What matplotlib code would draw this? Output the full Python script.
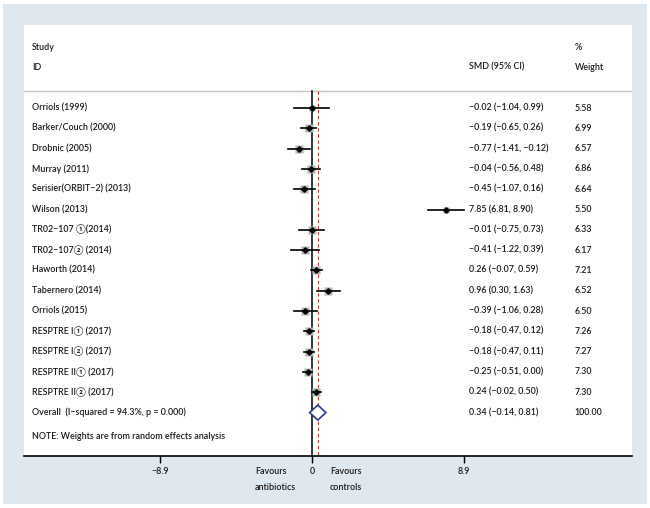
import numpy as np
import matplotlib.pyplot as plt
from matplotlib.patches import Rectangle

plt.rcParams['font.family'] = ['Lato', 'Noto Sans CJK SC', 'DejaVu Sans']
plt.rcParams['font.weight'] = 'semibold'

studies = ["Orriols (1999)", "Barker/Couch (2000)", "Drobnic (2005)", "Murray (2011)",
           "Serisier(ORBIT\u22122) (2013)", "Wilson (2013)", "TR02\u2212107 \u2460(2014)",
           "TR02\u2212107\u2461 (2014)", "Haworth (2014)", "Tabernero (2014)", "Orriols (2015)",
           "RESPTRE I\u2460 (2017)", "RESPTRE I\u2461 (2017)", "RESPTRE II\u2460 (2017)",
           "RESPTRE II\u2461 (2017)"]
smd = [-0.02, -0.19, -0.77, -0.04, -0.45, 7.85, -0.01, -0.41, 0.26, 0.96, -0.39,
       -0.18, -0.18, -0.25, 0.24]
ci_lo = [-1.04, -0.65, -1.41, -0.56, -1.07, 6.81, -0.75, -1.22, -0.07, 0.30, -1.06,
         -0.47, -0.47, -0.51, -0.02]
ci_hi = [0.99, 0.26, -0.12, 0.48, 0.16, 8.90, 0.73, 0.39, 0.59, 1.63, 0.28,
         0.12, 0.11, 0.00, 0.50]
weights = [5.58, 6.99, 6.57, 6.86, 6.64, 5.50, 6.33, 6.17, 7.21, 6.52, 6.50,
           7.26, 7.27, 7.30, 7.30]
overall = (0.34, -0.14, 0.81)
overall_label = "Overall  (I\u2212squared = 94.3%, p = 0.000)"
note = "NOTE: Weights are from random effects analysis"
xticks = [-8.9, 0, 8.9]

TXT = '#1a1a1a'
FS = 6.4


def fmt(v):
    return f"{v:.2f}".replace('-', '\u2212')


fig = plt.figure(figsize=(6.5, 5.08), dpi=100)
fig.patch.set_facecolor('white')
# light blue frame
fig.patches.append(Rectangle((3 / 650, 1 - 504 / 508), 644 / 650, 500 / 508,
                             transform=fig.transFigure, facecolor='#dfe8ee',
                             edgecolor='none', zorder=0))

ax = fig.add_axes([24 / 650, 1 - 456 / 508, 608 / 650, 431 / 508])
ax.set_facecolor('white')
ax.set_zorder(1)

n = len(studies)
rows = np.arange(n)
ax.set_ylim(17.14, -4.09)
ax.set_xlim(-16.84, 18.71)

trans = ax.get_yaxis_transform()  # x axes-fraction, y data
xcol_lab, xcol_smd, xcol_w = 0.013, 0.732, 0.906

# header
ax.text(xcol_lab, -3.0, "Study", transform=trans, fontsize=FS, color=TXT, va='center')
ax.text(xcol_lab, -2.02, "ID", transform=trans, fontsize=FS, color=TXT, va='center')
ax.text(xcol_smd, -2.02, "SMD (95% CI)", transform=trans, fontsize=FS, color=TXT, va='center')
ax.text(xcol_w, -3.0, "%", transform=trans, fontsize=FS, color=TXT, va='center')
ax.text(xcol_w, -2.02, "Weight", transform=trans, fontsize=FS, color=TXT, va='center')
ax.axhline(-0.84, color='#c4c4c4', lw=1.0)

# reference lines
ax.plot([0, 0], [-0.84, 17.14], color='black', lw=1.1, zorder=2)
ax.plot([overall[0], overall[0]], [-0.84, 17.14], color='#b0423a', lw=0.8,
        ls=(0, (3, 2.5)), zorder=2)

# studies
for i in range(n):
    ax.plot(smd[i], rows[i], marker='s', ms=2.1 * np.sqrt(weights[i]),
            color='#b5b5b5', mec='none', zorder=3)
    ax.plot([ci_lo[i], ci_hi[i]], [rows[i], rows[i]], color='black', lw=1.2, zorder=4)
    ax.plot(smd[i], rows[i], marker='D', ms=2.8, color='black', zorder=5)
    ax.text(xcol_lab, rows[i], studies[i], transform=trans, fontsize=FS, color=TXT, va='center')
    ax.text(xcol_smd, rows[i], f"{fmt(smd[i])} ({fmt(ci_lo[i])}, {fmt(ci_hi[i])})",
            transform=trans, fontsize=FS, color=TXT, va='center')
    ax.text(xcol_w, rows[i], f"{weights[i]:.2f}", transform=trans, fontsize=FS,
            color=TXT, va='center')

# overall diamond
yo = n
ax.fill([overall[1], overall[0], overall[2], overall[0], overall[1]],
        [yo, yo - 0.37, yo, yo + 0.37, yo], facecolor='white', edgecolor='#2f3a85',
        lw=1.2, zorder=5)
ax.text(xcol_lab, yo, overall_label, transform=trans, fontsize=FS, color=TXT, va='center')
ax.text(xcol_smd, yo, f"{fmt(overall[0])} ({fmt(overall[1])}, {fmt(overall[2])})",
        transform=trans, fontsize=FS, color=TXT, va='center')
ax.text(xcol_w, yo, "100.00", transform=trans, fontsize=FS, color=TXT, va='center')
ax.text(xcol_lab, 16.2, note, transform=trans, fontsize=FS, color=TXT, va='center')

# axis
for s in ['top', 'left', 'right']:
    ax.spines[s].set_visible(False)
ax.spines['bottom'].set_linewidth(1.2)
ax.set_yticks([])
ax.set_xticks(xticks)
ax.set_xticklabels([str(t).replace('-', '\u2212') if t != 0 else '0' for t in xticks])
ax.tick_params(axis='x', length=5, width=1.0, pad=3, labelsize=FS, labelcolor=TXT)

xtr = ax.get_xaxis_transform()
ax.text(-3.33, -0.035, "Favours", transform=xtr, fontsize=FS, color=TXT, va='center', ha='left')
ax.text(-3.33, -0.074, "antibiotics", transform=xtr, fontsize=FS, color=TXT, va='center', ha='left')
ax.text(1.05, -0.035, "Favours", transform=xtr, fontsize=FS, color=TXT, va='center', ha='left')
ax.text(1.05, -0.074, "controls", transform=xtr, fontsize=FS, color=TXT, va='center', ha='left')

fig.savefig('out.png', dpi=100, facecolor=fig.get_facecolor())
